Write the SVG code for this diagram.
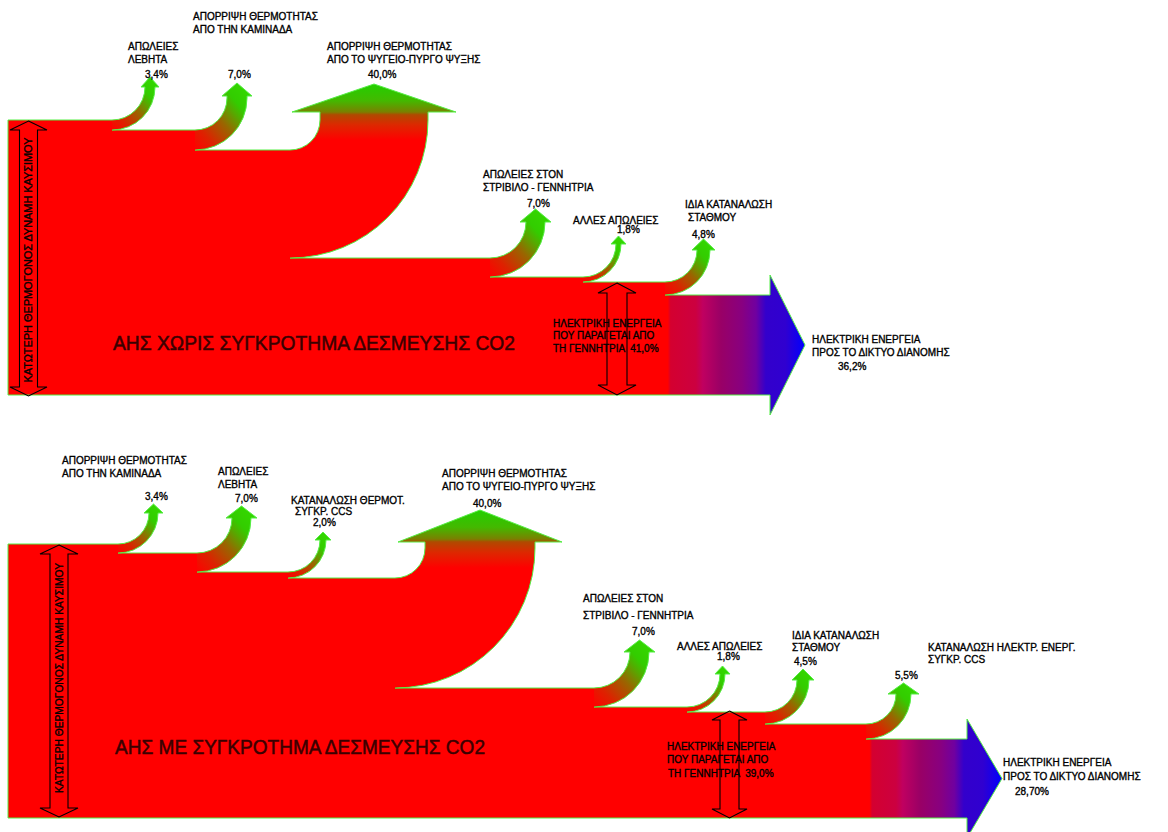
<svg xmlns="http://www.w3.org/2000/svg" width="1168" height="832" viewBox="0 0 1168 832">
<style>
.t{font-family:"Liberation Sans",Arial,sans-serif;font-size:10px;fill:#000;stroke:#000;stroke-width:0.35}
.ti{font-family:"Liberation Sans",Arial,sans-serif;font-size:20px;fill:#3a0000;stroke:#3a0000;stroke-width:0.5}
.ol{fill:none;stroke:#55ee44;stroke-width:1}
.br{fill:url(#gBr);stroke:none}
.da{fill:none;stroke:#000;stroke-width:1.1}
</style>
<defs>
<linearGradient id="gBr" x1="0" y1="1" x2="1" y2="0">
<stop offset="0" stop-color="#ff0000"/>
<stop offset="0.2" stop-color="#dd2200"/>
<stop offset="0.45" stop-color="#996600"/>
<stop offset="0.62" stop-color="#55aa00"/>
<stop offset="0.72" stop-color="#33cc00"/>
<stop offset="1" stop-color="#33dd00"/>
</linearGradient>
<linearGradient id="gBigT" gradientUnits="userSpaceOnUse" x1="0" y1="140" x2="0" y2="84">
<stop offset="0" stop-color="#ff0000"/>
<stop offset="0.27" stop-color="#dd2800"/>
<stop offset="0.45" stop-color="#b04a00"/>
<stop offset="0.5" stop-color="#7a8000"/>
<stop offset="0.7" stop-color="#44b800"/>
<stop offset="1" stop-color="#22d000"/>
</linearGradient>
<linearGradient id="gBigB" gradientUnits="userSpaceOnUse" x1="0" y1="568" x2="0" y2="510">
<stop offset="0" stop-color="#ff0000"/>
<stop offset="0.27" stop-color="#dd2800"/>
<stop offset="0.45" stop-color="#b04a00"/>
<stop offset="0.5" stop-color="#7a8000"/>
<stop offset="0.7" stop-color="#44b800"/>
<stop offset="1" stop-color="#22d000"/>
</linearGradient>
<linearGradient id="gTrT" gradientUnits="userSpaceOnUse" x1="665" y1="0" x2="805" y2="0">
<stop offset="0" stop-color="#ff0000"/>
<stop offset="0.02" stop-color="#ff0000"/>
<stop offset="0.04" stop-color="#d40030"/>
<stop offset="0.22" stop-color="#cc0040"/>
<stop offset="0.27" stop-color="#c00060"/>
<stop offset="0.4" stop-color="#990066"/>
<stop offset="0.55" stop-color="#880080"/>
<stop offset="0.65" stop-color="#7000a0"/>
<stop offset="0.72" stop-color="#3300cc"/>
<stop offset="0.86" stop-color="#3000d0"/>
<stop offset="1" stop-color="#0000ff"/>
</linearGradient>
<linearGradient id="gTrB" gradientUnits="userSpaceOnUse" x1="866" y1="0" x2="1002" y2="0">
<stop offset="0" stop-color="#ff0000"/>
<stop offset="0.025" stop-color="#ff0000"/>
<stop offset="0.045" stop-color="#d40030"/>
<stop offset="0.22" stop-color="#cc0040"/>
<stop offset="0.27" stop-color="#c00060"/>
<stop offset="0.4" stop-color="#990066"/>
<stop offset="0.55" stop-color="#880080"/>
<stop offset="0.65" stop-color="#7000a0"/>
<stop offset="0.72" stop-color="#3300cc"/>
<stop offset="0.86" stop-color="#3000d0"/>
<stop offset="1" stop-color="#0000ff"/>
</linearGradient>
</defs>
<rect width="1168" height="832" fill="#fff"/>

<!-- TOP DIAGRAM -->
<g id="top-trunk">
<path d="M8,120 L112,120 L112,130 L195,130 L195,150 L290,150 L290,258 L490,258 L490,277 L583,277 L583,282 L665,282 L665,295 L770,295 L770,275 L805,345 L770,415 L770,395 L8,395 Z" fill="url(#gTrT)"/>
<path class="ol" d="M8,395 L8,120 L112,120 M112,130 L195,130 M195,150 L290,150 M290,258 L490,258 M490,277 L583,277 M583,282 L665,282 M665,295 L770,295 L770,275 L805,345 L770,415 L770,395 L8,395"/>
</g>
<g id="top-b1">
<path class="br" d="M112,120 A33,33 0 0 0 145,87 L141,87 L150,77 L159,87 L155,87 A43,43 0 0 1 112,130 Z"/>
<path class="ol" d="M112,120 A33,33 0 0 0 145,87 L141,87 L150,77 L159,87 L155,87 A43,43 0 0 1 112,130"/>
</g>
<g id="top-b2">
<path class="br" d="M195,130 A32,32 0 0 0 227,98 L227,96 L222,96 L237,83 L252,96 L247,96 L247,98 A52,52 0 0 1 195,150 Z"/>
<path class="ol" d="M195,130 A32,32 0 0 0 227,98 L227,96 L222,96 L237,83 L252,96 L247,96 L247,98 A52,52 0 0 1 195,150"/>
</g>
<g id="top-b3">
<path d="M290,150 A30,30 0 0 0 320,120 L320,112 L292,112 L374,84 L456,112 L428,112 L428,120 A138,138 0 0 1 290,258 Z" fill="url(#gBigT)"/>
<path class="ol" d="M290,150 A30,30 0 0 0 320,120 L320,112 L292,112 L374,84 L456,112 L428,112 L428,120 A138,138 0 0 1 290,258"/>
</g>
<g id="top-b4">
<path class="br" d="M490,258 A36,36 0 0 0 526,222 L520,222 L535.5,209 L551,222 L545,222 A55,55 0 0 1 490,277 Z"/>
<path class="ol" d="M490,258 A36,36 0 0 0 526,222 L520,222 L535.5,209 L551,222 L545,222 A55,55 0 0 1 490,277"/>
</g>
<g id="top-b5">
<path class="br" d="M583,277 A33,33 0 0 0 616,244 L611,244 L618.5,236 L626,244 L621,244 A38,38 0 0 1 583,282 Z"/>
<path class="ol" d="M583,277 A33,33 0 0 0 616,244 L611,244 L618.5,236 L626,244 L621,244 A38,38 0 0 1 583,282"/>
</g>
<g id="top-b6">
<path class="br" d="M665,282 A32,32 0 0 0 697,250 L692,250 L703.5,239 L715,250 L710,250 A45,45 0 0 1 665,295 Z"/>
<path class="ol" d="M665,282 A32,32 0 0 0 697,250 L692,250 L703.5,239 L715,250 L710,250 A45,45 0 0 1 665,295"/>
</g>
<g id="top-input">
<path class="da" d="M28.5,121 L47,130 L37.5,130 L37.5,387 L47,387 L28.5,396 L10,387 L19.5,387 L19.5,130 L10,130 Z"/>
<text class="t" font-size="9" transform="translate(32,260) rotate(-90)" text-anchor="middle" textLength="245" lengthAdjust="spacingAndGlyphs">ΚΑΤΩΤΕΡΗ ΘΕΡΜΟΓΟΝΟΣ ΔΥΝΑΜΗ ΚΑΥΣΙΜΟΥ</text>
</g>
<g id="top-gen">
<path class="da" d="M617,283 L636,293 L627,293 L627,385 L636,385 L617,395 L598,385 L607,385 L607,293 L598,293 Z"/>
</g>
<g id="top-labels">
<text class="t" x="193" y="20">ΑΠΟΡΡΙΨΗ ΘΕΡΜΟΤΗΤΑΣ</text>
<text class="t" x="193" y="33">ΑΠΟ ΤΗΝ ΚΑΜΙΝΑΔΑ</text>
<text class="t" x="128" y="50">ΑΠΩΛΕΙΕΣ</text>
<text class="t" x="128" y="63">ΛΕΒΗΤΑ</text>
<text class="t" x="145" y="78">3,4%</text>
<text class="t" x="228" y="78">7,0%</text>
<text class="t" x="327" y="50">ΑΠΟΡΡΙΨΗ ΘΕΡΜΟΤΗΤΑΣ</text>
<text class="t" x="327" y="63">ΑΠΟ ΤΟ ΨΥΓΕΙΟ-ΠΥΡΓΟ ΨΥΞΗΣ</text>
<text class="t" x="368" y="78">40,0%</text>
<text class="t" x="483" y="178">ΑΠΩΛΕΙΕΣ ΣΤΟΝ</text>
<text class="t" x="483" y="191">ΣΤΡΙΒΙΛΟ - ΓΕΝΝΗΤΡΙΑ</text>
<text class="t" x="527" y="207">7,0%</text>
<text class="t" x="573" y="224">ΑΛΛΕΣ ΑΠΩΛΕΙΕΣ</text>
<text class="t" x="617" y="233">1,8%</text>
<text class="t" x="685" y="208">ΙΔΙΑ ΚΑΤΑΝΑΛΩΣΗ</text>
<text class="t" x="688" y="221">ΣΤΑΘΜΟΥ</text>
<text class="t" x="692" y="238">4,8%</text>
<text class="t" x="553" y="327">ΗΛΕΚΤΡΙΚΗ ΕΝΕΡΓΕΙΑ</text>
<text class="t" x="553" y="339">ΠΟΥ ΠΑΡΑΓΕΤΑΙ ΑΠΟ</text>
<text class="t" x="553" y="352" xml:space="preserve">ΤΗ ΓΕΝΝΗΤΡΙΑ  41,0%</text>
<text class="t" x="812" y="343">ΗΛΕΚΤΡΙΚΗ ΕΝΕΡΓΕΙΑ</text>
<text class="t" x="812" y="356">ΠΡΟΣ ΤΟ ΔΙΚΤΥΟ ΔΙΑΝΟΜΗΣ</text>
<text class="t" x="838" y="370">36,2%</text>
<text class="ti" x="113" y="350" textLength="402" lengthAdjust="spacingAndGlyphs">ΑΗΣ ΧΩΡΙΣ ΣΥΓΚΡΟΤΗΜΑ ΔΕΣΜΕΥΣΗΣ CO2</text>
</g>

<!-- BOTTOM DIAGRAM -->
<g id="bot-trunk">
<path d="M8,544 L118,544 L118,553 L197,553 L197,572 L288,572 L288,578 L395,578 L395,688 L594,688 L594,707 L687,707 L687,712 L765,712 L765,724 L866,724 L866,739 L967,739 L967,719 L1002,778.5 L967,838 L967,818 L8,818 Z" fill="url(#gTrB)"/>
<path class="ol" d="M8,818 L8,544 L118,544 M118,553 L197,553 M197,572 L288,572 M288,578 L395,578 M395,688 L594,688 M594,707 L687,707 M687,712 L765,712 M765,724 L866,724 M866,739 L967,739 L967,719 L1002,778.5 L967,838 L967,818 L8,818"/>
</g>
<g id="bot-b1">
<path class="br" d="M118,544 A31,31 0 0 0 149,513 L144,513 L153.5,504 L163,513 L158,513 A40,40 0 0 1 118,553 Z"/>
<path class="ol" d="M118,544 A31,31 0 0 0 149,513 L144,513 L153.5,504 L163,513 L158,513 A40,40 0 0 1 118,553"/>
</g>
<g id="bot-b2">
<path class="br" d="M197,553 A35,35 0 0 0 232,518 L226,518 L241.5,506 L257,518 L251,518 A54,54 0 0 1 197,572 Z"/>
<path class="ol" d="M197,553 A35,35 0 0 0 232,518 L226,518 L241.5,506 L257,518 L251,518 A54,54 0 0 1 197,572"/>
</g>
<g id="bot-b3">
<path class="br" d="M288,572 A32,32 0 0 0 320,540 L315,540 L323,532 L331,540 L326,540 A38,38 0 0 1 288,578 Z"/>
<path class="ol" d="M288,572 A32,32 0 0 0 320,540 L315,540 L323,532 L331,540 L326,540 A38,38 0 0 1 288,578"/>
</g>
<g id="bot-b4">
<path d="M395,578 A30,30 0 0 0 425,548 L425,542 L398,542 L480,510 L562,542 L535,542 L535,548 A140,140 0 0 1 395,688 Z" fill="url(#gBigB)"/>
<path class="ol" d="M395,578 A30,30 0 0 0 425,548 L425,542 L398,542 L480,510 L562,542 L535,542 L535,548 A140,140 0 0 1 395,688"/>
</g>
<g id="bot-b5">
<path class="br" d="M594,688 A36,36 0 0 0 630,652 L624,652 L639.5,640 L655,652 L649,652 A55,55 0 0 1 594,707 Z"/>
<path class="ol" d="M594,688 A36,36 0 0 0 630,652 L624,652 L639.5,640 L655,652 L649,652 A55,55 0 0 1 594,707"/>
</g>
<g id="bot-b6">
<path class="br" d="M687,707 A33,33 0 0 0 720,674 L715,674 L722.5,666 L730,674 L725,674 A38,38 0 0 1 687,712 Z"/>
<path class="ol" d="M687,707 A33,33 0 0 0 720,674 L715,674 L722.5,666 L730,674 L725,674 A38,38 0 0 1 687,712"/>
</g>
<g id="bot-b7">
<path class="br" d="M765,712 A32,32 0 0 0 797,680 L792,680 L803,669 L814,680 L809,680 A44,44 0 0 1 765,724 Z"/>
<path class="ol" d="M765,712 A32,32 0 0 0 797,680 L792,680 L803,669 L814,680 L809,680 A44,44 0 0 1 765,724"/>
</g>
<g id="bot-b8">
<path class="br" d="M866,724 A30,30 0 0 0 896,694 L888,694 L903.5,683 L919,694 L911,694 A45,45 0 0 1 866,739 Z"/>
<path class="ol" d="M866,724 A30,30 0 0 0 896,694 L888,694 L903.5,683 L919,694 L911,694 A45,45 0 0 1 866,739"/>
</g>
<g id="bot-input">
<path class="da" d="M59,545 L78,554 L68,554 L68,808 L78,808 L59,817 L40,808 L50,808 L50,554 L40,554 Z"/>
<text class="t" font-size="9" transform="translate(62.5,678) rotate(-90)" text-anchor="middle" textLength="230" lengthAdjust="spacingAndGlyphs">ΚΑΤΩΤΕΡΗ ΘΕΡΜΟΓΟΝΟΣ ΔΥΝΑΜΗ ΚΑΥΣΙΜΟΥ</text>
</g>
<g id="bot-gen">
<path class="da" d="M729.5,711 L747,720 L739,720 L739,809 L747,809 L729.5,818 L712,809 L720,809 L720,720 L712,720 Z"/>
</g>
<g id="bot-labels">
<text class="t" x="62" y="464">ΑΠΟΡΡΙΨΗ ΘΕΡΜΟΤΗΤΑΣ</text>
<text class="t" x="62" y="477">ΑΠΟ ΤΗΝ ΚΑΜΙΝΑΔΑ</text>
<text class="t" x="145" y="500">3,4%</text>
<text class="t" x="218" y="475">ΑΠΩΛΕΙΕΣ</text>
<text class="t" x="218" y="488">ΛΕΒΗΤΑ</text>
<text class="t" x="235" y="502">7,0%</text>
<text class="t" x="291" y="504">ΚΑΤΑΝΑΛΩΣΗ ΘΕΡΜΟΤ.</text>
<text class="t" x="295" y="515">ΣΥΓΚΡ. CCS</text>
<text class="t" x="313" y="526">2,0%</text>
<text class="t" x="442" y="477">ΑΠΟΡΡΙΨΗ ΘΕΡΜΟΤΗΤΑΣ</text>
<text class="t" x="442" y="490">ΑΠΟ ΤΟ ΨΥΓΕΙΟ-ΠΥΡΓΟ ΨΥΞΗΣ</text>
<text class="t" x="473" y="507">40,0%</text>
<text class="t" x="583" y="602">ΑΠΩΛΕΙΕΣ ΣΤΟΝ</text>
<text class="t" x="583" y="619">ΣΤΡΙΒΙΛΟ - ΓΕΝΝΗΤΡΙΑ</text>
<text class="t" x="632" y="635">7,0%</text>
<text class="t" x="677" y="650">ΑΛΛΕΣ ΑΠΩΛΕΙΕΣ</text>
<text class="t" x="717" y="660">1,8%</text>
<text class="t" x="792" y="639">ΙΔΙΑ ΚΑΤΑΝΑΛΩΣΗ</text>
<text class="t" x="792" y="651">ΣΤΑΘΜΟΥ</text>
<text class="t" x="794" y="665">4,5%</text>
<text class="t" x="928" y="651">ΚΑΤΑΝΑΛΩΣΗ ΗΛΕΚΤΡ. ΕΝΕΡΓ.</text>
<text class="t" x="928" y="663">ΣΥΓΚΡ. CCS</text>
<text class="t" x="895" y="679">5,5%</text>
<text class="t" x="667" y="750">ΗΛΕΚΤΡΙΚΗ ΕΝΕΡΓΕΙΑ</text>
<text class="t" x="667" y="763">ΠΟΥ ΠΑΡΑΓΕΤΑΙ ΑΠΟ</text>
<text class="t" x="668" y="777" xml:space="preserve">ΤΗ ΓΕΝΝΗΤΡΙΑ  39,0%</text>
<text class="t" x="1003" y="766">ΗΛΕΚΤΡΙΚΗ ΕΝΕΡΓΕΙΑ</text>
<text class="t" x="1003" y="780">ΠΡΟΣ ΤΟ ΔΙΚΤΥΟ ΔΙΑΝΟΜΗΣ</text>
<text class="t" x="1015" y="795">28,70%</text>
<text class="ti" x="115" y="754" textLength="370" lengthAdjust="spacingAndGlyphs">ΑΗΣ ΜΕ ΣΥΓΚΡΟΤΗΜΑ ΔΕΣΜΕΥΣΗΣ CO2</text>
</g>
</svg>
